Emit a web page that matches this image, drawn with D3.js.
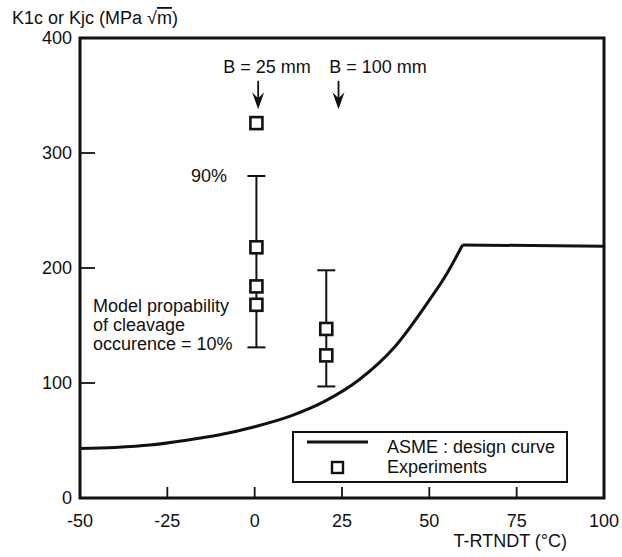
<!DOCTYPE html>
<html lang="en">
<meta charset="utf-8">
<head>
  <style>
    body { margin: 0; background: #fff; }
    svg text { font-family: "Liberation Sans", Arial, Helvetica, sans-serif; font-size: 18px; fill: #111; }
  </style>
  <title></title>
</head>
<body>
<script src="https://d3js.org/d3.v7.min.js"></script>
<script>

  // ASME design curve
  const asmeT = [-50, -40, -30, -20, -10, 0, 10, 20, 30, 40, 50, 55, 59.5];
  const asmeK = [43, 44, 46, 50, 55, 62, 71, 84, 103, 131, 172, 195, 220];
  const plateauT = [59.5, 100];
  const plateauK = [220, 219];

  // experiments
  const expT = [0.5, 0.5, 0.5, 0.5, 20.5, 20.5];
  const expK = [326, 218, 184, 168, 147, 124];

  // model scatter band (10% .. 90%)
  const bandT = [0.5, 20.5];
  const bandLow = [131, 97];
  const bandHigh = [280, 198];

  // specimen size arrows
  const arrowT = [1, 24];
  const arrowLabels = ["B = 25 mm", "B = 100 mm"];
  const arrowLabelT = [3.5, 35.3];

  const xTicks = [-50, -25, 0, 25, 50, 75, 100];
  const yTicks = [0, 100, 200, 300, 400];

  const margin = {top: 38, right: 18, bottom: 59, left: 80},
        width = 622 - margin.left - margin.right,
        height = 557 - margin.top - margin.bottom;

  const x = d3.scaleLinear().domain([-50, 100]).range([0, width]);
  const y = d3.scaleLinear().domain([0, 400]).range([height, 0]);

  const root = d3.select("body").append("svg")
      .attr("width", 622)
      .attr("height", 557);

  const svg = root.append("g")
      .attr("transform", "translate(" + margin.left + "," + margin.top + ")");

  // inward ticks
  svg.append("g")
      .selectAll("line")
      .data(xTicks.slice(1, -1))
      .enter().append("line")
      .attr("x1", d => x(d)).attr("x2", d => x(d))
      .attr("y1", height).attr("y2", height - 11)
      .attr("stroke", "#111").attr("stroke-width", 1.8);

  svg.append("g")
      .selectAll("line")
      .data(yTicks.slice(1, -1))
      .enter().append("line")
      .attr("x1", 0).attr("x2", 15)
      .attr("y1", d => y(d)).attr("y2", d => y(d))
      .attr("stroke", "#111").attr("stroke-width", 1.8);

  // tick labels
  svg.append("g")
      .selectAll("text")
      .data(xTicks)
      .enter().append("text")
      .attr("x", d => x(d))
      .attr("y", height + 29)
      .attr("text-anchor", "middle")
      .text(d => d);

  svg.append("g")
      .selectAll("text")
      .data(yTicks)
      .enter().append("text")
      .attr("x", -8)
      .attr("y", d => y(d))
      .attr("dy", "0.35em")
      .attr("text-anchor", "end")
      .text(d => d);

  // axis titles
  const yTitle = root.append("text")
      .attr("x", 12)
      .attr("y", 24);
  yTitle.append("tspan").text("K1c or Kjc (MPa ");
  yTitle.append("tspan").text("\u221A");
  yTitle.append("tspan").style("text-decoration", "overline").text("m");
  yTitle.append("tspan").text(")");

  root.append("text")
      .attr("x", 567)
      .attr("y", 547)
      .attr("text-anchor", "end")
      .text("T-RTNDT (\u00B0C)");

  // ASME curve
  const line = d3.line()
      .x(d => x(d[0]))
      .y(d => y(d[1]));

  svg.append("path")
      .datum(asmeT.map((t, i) => [t, asmeK[i]]))
      .attr("fill", "none")
      .attr("stroke", "#111")
      .attr("stroke-width", 3)
      .attr("stroke-linejoin", "round")
      .attr("d", line.curve(d3.curveMonotoneX));

  svg.append("path")
      .datum(plateauT.map((t, i) => [t, plateauK[i]]))
      .attr("fill", "none")
      .attr("stroke", "#111")
      .attr("stroke-width", 3)
      .attr("d", d3.line().x(d => x(d[0])).y(d => y(d[1])));

  // scatter bands
  const bands = svg.append("g").attr("stroke", "#111").attr("stroke-width", 2);
  bandT.forEach(function (t, i) {
      bands.append("line")
          .attr("x1", x(t)).attr("x2", x(t))
          .attr("y1", y(bandLow[i])).attr("y2", y(bandHigh[i]));
      [bandLow[i], bandHigh[i]].forEach(function (k) {
          bands.append("line")
              .attr("x1", x(t) - 9).attr("x2", x(t) + 9)
              .attr("y1", y(k)).attr("y2", y(k));
      });
  });

  // experiments
  svg.append("g")
      .selectAll("rect")
      .data(expT.map((t, i) => [t, expK[i]]))
      .enter().append("rect")
      .attr("x", d => x(d[0]) - 6)
      .attr("y", d => y(d[1]) - 6)
      .attr("width", 12)
      .attr("height", 12)
      .attr("fill", "#fff")
      .attr("stroke", "#111")
      .attr("stroke-width", 2.6);

  // arrows
  arrowT.forEach(function (t, i) {
      const ax = x(t), top = y(368) + 6, tip = y(338);
      svg.append("line")
          .attr("x1", ax).attr("x2", ax)
          .attr("y1", top).attr("y2", tip - 4)
          .attr("stroke", "#111").attr("stroke-width", 1.8);
      svg.append("path")
          .attr("d", "M" + (ax - 6) + "," + (tip - 17) +
                     "L" + ax + "," + (tip - 11) +
                     "L" + (ax + 6) + "," + (tip - 17) +
                     "L" + ax + "," + tip + "Z")
          .attr("fill", "#111");
      svg.append("text")
          .attr("x", x(arrowLabelT[i]))
          .attr("y", y(370))
          .attr("text-anchor", "middle")
          .text(arrowLabels[i]);
  });

  // annotations
  svg.append("text")
      .attr("x", x(-7.9))
      .attr("y", y(280))
      .attr("dy", "0.35em")
      .attr("text-anchor", "end")
      .text("90%");

  const note = svg.append("text")
      .attr("x", x(-46.3))
      .attr("y", y(161.7));
  ["Model propability", "of cleavage", "occurence = 10%"].forEach(function (s, i) {
      note.append("tspan")
          .attr("x", x(-46.3))
          .attr("dy", i === 0 ? 0 : 19)
          .text(s);
  });

  // legend
  const legend = svg.append("g").attr("transform", "translate(213,394)");
  legend.append("rect")
      .attr("width", 274).attr("height", 50)
      .attr("fill", "#fff")
      .attr("stroke", "#111").attr("stroke-width", 2);
  legend.append("line")
      .attr("x1", 14).attr("x2", 75)
      .attr("y1", 10).attr("y2", 10)
      .attr("stroke", "#111").attr("stroke-width", 3);
  legend.append("rect")
      .attr("x", 39).attr("y", 30)
      .attr("width", 11).attr("height", 11)
      .attr("fill", "#fff")
      .attr("stroke", "#111").attr("stroke-width", 2.4);
  legend.append("text").attr("x", 94).attr("y", 21).text("ASME : design curve");
  legend.append("text").attr("x", 94).attr("y", 41).text("Experiments");

  // frame
  svg.append("rect")
      .attr("width", width).attr("height", height)
      .attr("fill", "none")
      .attr("stroke", "#111")
      .attr("stroke-width", 3);

</script>
</body>
</html>
